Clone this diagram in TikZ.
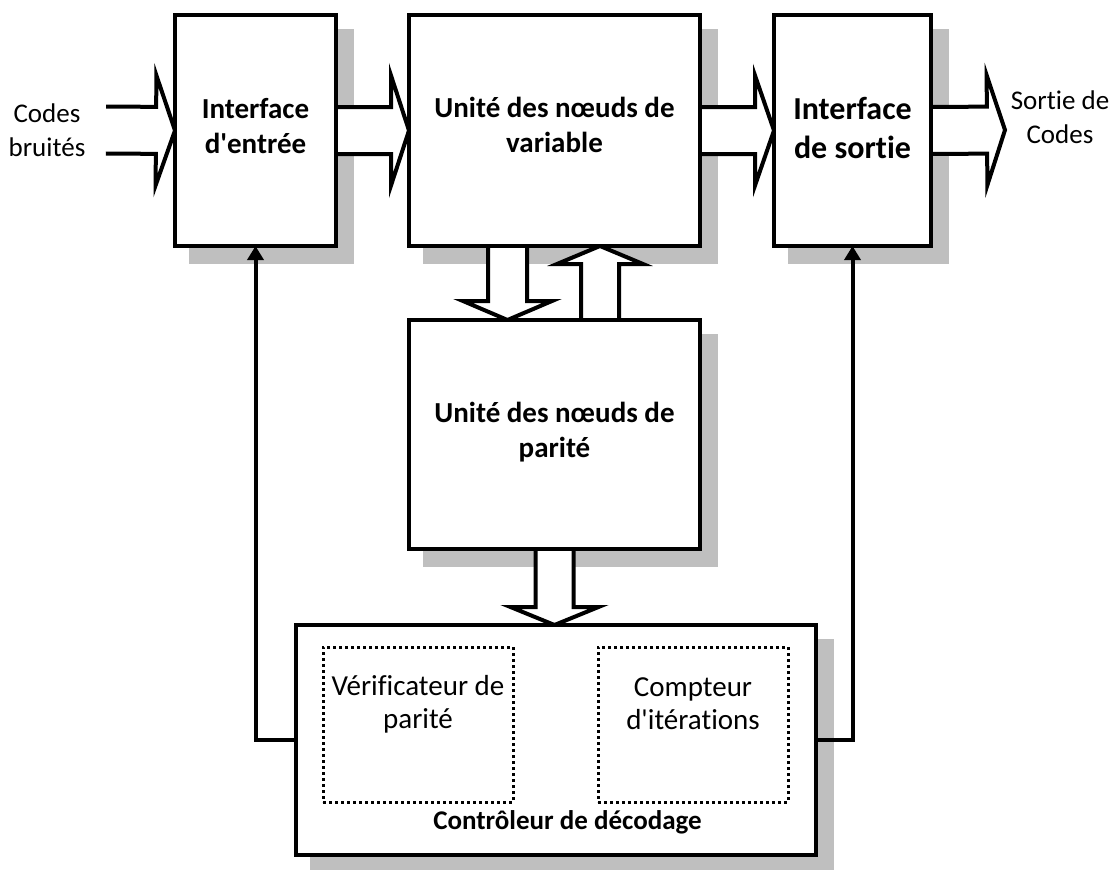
\documentclass[tikz,border=0pt]{standalone}
\usepackage{fontspec}
\setmainfont{Carlito}[Ligatures={NoCommon}]
\usetikzlibrary{arrows.meta,calc}
\pgfdeclarelayer{shadowlayer}
\pgfdeclarelayer{arrowlayer}
\pgfsetlayers{shadowlayer,arrowlayer,main}
\definecolor{shadowgray}{RGB}{191,191,191}
\newcommand\apos{\textquotesingle}
\tikzset{
  block/.style={draw, line width=4pt, fill=white, outer sep=0pt, inner sep=0pt},
  subblock/.style={draw, line width=3pt, dash pattern=on 3pt off 3pt, outer sep=0pt, inner sep=0pt,
    minimum width=190pt, minimum height=155pt},
  fatline/.style={draw, fill=white, line width=4pt, line join=miter, miter limit=10},
  feedback/.style={line width=4pt, -{Triangle[length=14pt,width=16pt]}},
  boldtxt/.style={font=\fontsize{29}{35}\selectfont\bfseries, align=center, inner sep=0pt},
  bigtxt/.style={font=\fontsize{32}{39}\selectfont\bfseries, align=center, inner sep=0pt},
  plaintxt/.style={font=\fontsize{27}{34}\selectfont, align=center, inner sep=0pt},
  subtxt/.style={font=\fontsize{29}{33}\selectfont, align=center, inner sep=0pt},
}
% hollow block arrow from #1 to #2: half shaft width #3, half head width #4, head length #5
\newcommand\blockarrow[5]{%
  \begin{pgfonlayer}{arrowlayer}
  \path[fatline] let \p1=(#1), \p2=(#2),
      \n1={veclen(\x2-\x1,\y2-\y1)}, \n2={atan2(\y2-\y1,\x2-\x1)} in
    [shift={(\p1)}, rotate=\n2]
    (0pt,-#3pt) -- ({\n1-#5pt},-#3pt) -- ({\n1-#5pt},-#4pt) -- (\n1,0pt)
    -- ({\n1-#5pt},#4pt) -- ({\n1-#5pt},#3pt) -- (0pt,#3pt);
  \end{pgfonlayer}}
% grey drop shadow offset down-right behind a node
\newcommand\dropshade[1]{%
  \begin{pgfonlayer}{shadowlayer}
  \fill[shadowgray] ($(#1.north west)+(14pt,-14pt)$) rectangle ($(#1.south east)+(18pt,-18pt)$);
  \end{pgfonlayer}}
\begin{document}
\begin{tikzpicture}[x=1pt,y=-1pt]
\useasboundingbox (0,0) rectangle (1117,870);

% main blocks
\node[block, minimum width=161pt, minimum height=231pt] (in) at (255.5,130.5) {};
\node[block, minimum width=291pt, minimum height=231pt] (var) at (554.5,130.5) {};
\node[block, minimum width=157pt, minimum height=231pt] (out) at (852.5,130.5) {};
\node[block, minimum width=291pt, minimum height=229pt] (par) at (554.5,434.5) {};
\node[block, minimum width=520pt, minimum height=230pt] (ctrl) at (556,740) {};

\foreach \n in {in,var,out,par,ctrl} {\dropshade{\n}}

% block titles
\node[boldtxt] (intxt) at (255.5,126) {Interface\\d\apos entrée};
\node[boldtxt] (vartxt) at (554.5,125) {Unité des nœuds de\\variable};
\node[bigtxt] (outtxt) at (852.5,128) {Interface\\de sortie};
\node[boldtxt] (partxt) at (554.5,432) {Unité des nœuds de\\parité};

% inner units of the controller
\node[subblock] (verif) at (418,724.5) {};
\node[subblock] (iter) at (693,724.5) {};
\node[subtxt] (veriftxt) at (418,704) {Vérificateur de\\parité};
\node[subtxt] (itertxt) at (693,704) {Compteur\\d\apos itérations};
\node[boldtxt, font=\fontsize{27}{32}\selectfont\bfseries] (ctrltxt) at (567.5,822)
  {Contrôleur de décodage};

% external labels
\node[plaintxt] (noisy) at (47,130) {Codes\\bruités};
\node[plaintxt] (decoded) at (1060,117) {Sortie de\\Codes};
\coordinate (src) at (106,130);
\coordinate (dst) at (1005,130);

% data paths
\blockarrow{src}{in.west}{23.5}{55}{19}
\blockarrow{in.east}{var.west}{23.5}{55}{18}
\blockarrow{var.east}{out.west}{23.5}{55}{19}
\blockarrow{out.east}{dst}{23.5}{55}{18}
\blockarrow{var.south -| 507.5,0}{par.north -| 507.5,0}{19.5}{44.5}{19}
\blockarrow{par.north -| 600,0}{var.south -| 600,0}{19}{43}{18}
\blockarrow{par.south}{ctrl.north -| par.south}{19}{44}{18}

% control feedback
\draw[feedback] (ctrl.west) -| (in.south);
\draw[feedback] (ctrl.east) -| (out.south);
\end{tikzpicture}
\end{document}
